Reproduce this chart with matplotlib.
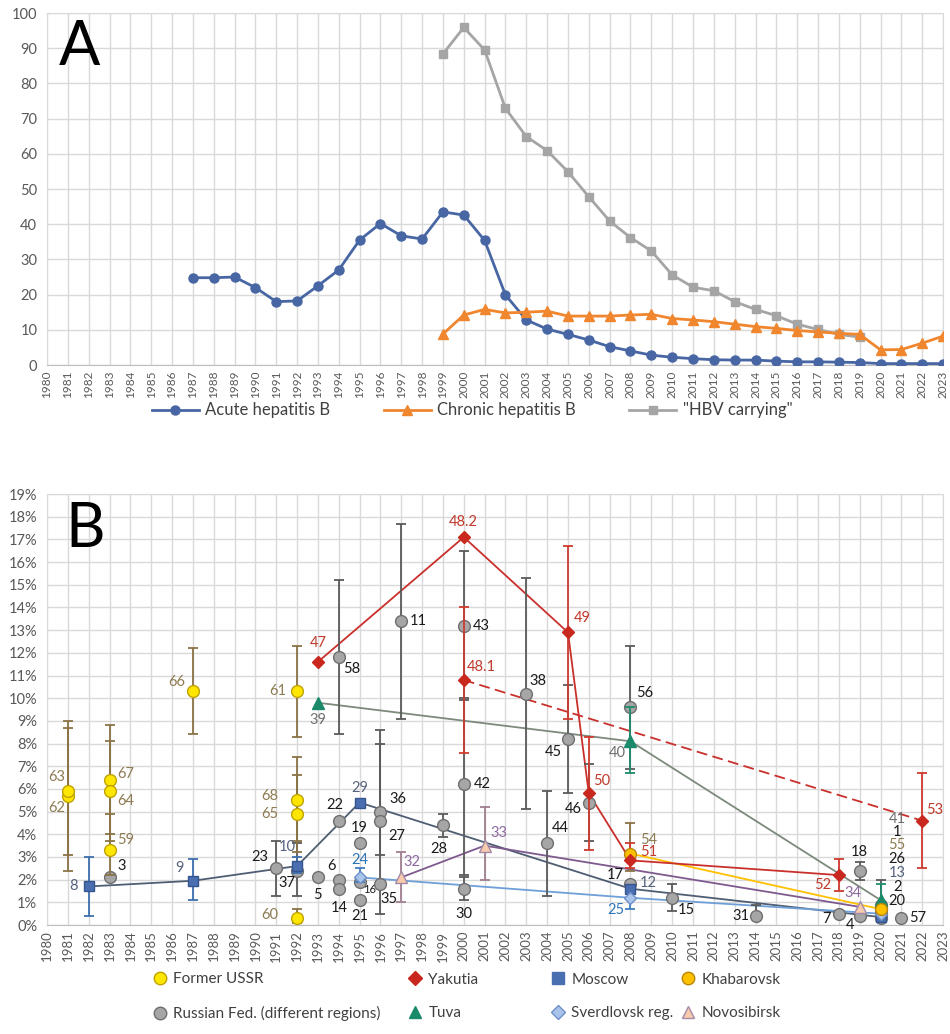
import numpy as np
import matplotlib.pyplot as plt
from matplotlib.lines import Line2D

plt.rcParams['font.family'] = ['Lato', 'DejaVu Sans']
nan = np.nan

# ---------------- panel A: incidence per 100 000 ----------------
acute_years = list(range(1987, 2024))
acute = [24.8, 24.8, 25.0, 22.0, 18.0, 18.2, 22.5, 27.0, 35.5, 40.2, 36.7, 35.8,
         43.5, 42.6, 35.4, 19.9, 12.8, 10.2, 8.7, 7.1, 5.2, 4.0, 2.8, 2.2, 1.8,
         1.5, 1.4, 1.4, 1.1, 0.9, 0.9, 0.8, 0.7, 0.4, 0.4, 0.4, 0.4]
chronic_years = list(range(1999, 2024))
chronic = [8.8, 14.2, 15.8, 14.8, 15.0, 15.3, 13.9, 13.9, 13.9, 14.2, 14.4, 13.2,
           12.8, 12.3, 11.6, 10.9, 10.4, 9.8, 9.4, 9.0, 8.7, 4.3, 4.4, 6.2, 8.2]
carrier_years = list(range(1999, 2020))
carrier = [88.4, 95.9, 89.5, 72.9, 64.9, 60.9, 54.9, 47.8, 40.9, 36.2, 32.4,
           25.6, 22.1, 21.1, 18.0, 15.8, 14.0, 11.6, 10.1, 8.7, 7.9]

# ---------------- panel B: HBsAg prevalence (%) ----------------
ussr_lab = ['62', '63', '67', '64', '59', '66', '61', '68', '65', '60']
ussr_year = [1981, 1981, 1983, 1983, 1983, 1987, 1992, 1992, 1992, 1992]
ussr_val = [5.7, 5.9, 6.4, 5.9, 3.3, 10.3, 10.3, 5.5, 4.9, 0.3]
ussr_lo = [3.1, 2.4, 4.0, 3.7, 2.2, 8.4, 8.3, 3.7, 3.2, 0.1]
ussr_hi = [8.7, 9.0, 8.8, 8.1, 4.9, 12.2, 12.3, 7.4, 6.6, 0.7]

rus_lab = ['3', '23', '37', '5', '6', '14', '22', '58', '19', '16', '21', '36', '27',
           '35', '11', '28', '43', '42', '30', '38', '44', '45', '46', '56', '17',
           '15', '31', '7', '18', '4', '1', '26', '2', '20', '57']
rus_year = [1983, 1991, 1992, 1993, 1994, 1994, 1994, 1994, 1995, 1995, 1995, 1996,
            1996, 1996, 1997, 1999, 2000, 2000, 2000, 2003, 2004, 2005, 2006, 2008,
            2008, 2010, 2014, 2018, 2019, 2019, 2020, 2020, 2020, 2020, 2021]
rus_val = [2.1, 2.5, 2.4, 2.1, 2.0, 1.6, 4.6, 11.8, 3.6, 1.9, 1.1, 5.0, 4.6, 1.8,
           13.4, 4.4, 13.2, 6.2, 1.6, 10.2, 3.6, 8.2, 5.4, 9.6, 1.8, 1.2, 0.4, 0.5,
           2.4, 0.4, 0.9, 0.7, 0.5, 0.3, 0.3]
rus_lo = [nan, 1.3, 1.3, nan, nan, nan, nan, 8.4, nan, nan, nan, 3.1, nan, 0.5,
          9.1, 3.9, 9.9, 2.2, 1.1, 5.1, 1.3, 5.8, 3.7, 6.9, nan, 0.6, 0.4, nan,
          2.0, nan, nan, nan, 0.3, nan, nan]
rus_hi = [nan, 3.7, 3.6, nan, nan, nan, nan, 15.2, nan, nan, nan, 8.6, nan, 8.0,
          17.7, 4.9, 16.5, 10.0, 2.1, 15.3, 5.9, 10.6, 7.1, 12.3, nan, 1.8, 0.9, nan,
          2.8, nan, nan, nan, 2.0, nan, nan]

yak_lab = ['47', '48.2', '49', '50', '51', '52']
yak_year = [1993, 2000, 2005, 2006, 2008, 2018]
yak_val = [11.6, 17.1, 12.9, 5.8, 2.85, 2.2]
yak_lo = [nan, nan, 9.1, 3.3, 2.5, 1.5]
yak_hi = [nan, nan, 16.7, 8.3, 3.6, 2.9]

yak2_lab = ['48.1', '53']
yak2_year = [2000, 2022]
yak2_val = [10.8, 4.6]
yak2_lo = [7.6, 2.5]
yak2_hi = [14.0, 6.7]

mos_lab = ['8', '9', '10', '29', '12', '13']
mos_year = [1982, 1987, 1992, 1995, 2008, 2020]
mos_val = [1.7, 1.95, 2.6, 5.4, 1.6, 0.35]
mos_lo = [0.4, 1.1, 2.3, nan, nan, nan]
mos_hi = [3.0, 2.9, 3.0, nan, nan, nan]

tuva_lab = ['39', '40', '41']
tuva_year = [1993, 2008, 2020]
tuva_val = [9.8, 8.1, 1.1]
tuva_lo = [nan, 6.7, 0.6]
tuva_hi = [nan, 9.6, 1.8]

kha_lab = ['54', '55']
kha_year = [2008, 2020]
kha_val = [3.15, 0.7]
kha_lo = [2.4, nan]
kha_hi = [4.5, nan]

sve_lab = ['24', '25', '']
sve_year = [1995, 2008, 2020]
sve_val = [2.1, 1.2, 0.5]
sve_lo = [1.9, 0.7, nan]
sve_hi = [2.5, 1.6, nan]

nov_lab = ['32', '33', '34']
nov_year = [1997, 2001, 2019]
nov_val = [2.1, 3.5, 0.8]
nov_lo = [1.0, 2.0, nan]
nov_hi = [3.2, 5.2, nan]

# label placement (pixel offsets from the point: right, up)
label_off = {
    '62': (-11, -12), '63': (-11, 14), '67': (16, 6), '64': (16, -10), '59': (16, 10),
    '66': (-16, 9), '61': (-19, 0), '68': (-27, 4), '65': (-27, 0), '60': (-27, 3),
    '3': (12, 11), '23': (-16, 11), '37': (-10, -12), '5': (0, -18), '6': (-7, 14),
    '14': (0, -19), '22': (-4, 16), '58': (13, -12), '19': (0, 15), '16': (10, -8),
    '21': (0, -16), '36': (17, 13), '27': (16, -15), '35': (9, -15), '11': (17, 0),
    '28': (-4, -24), '43': (18, 0), '42': (19, 0), '30': (0, -25), '38': (12, 13),
    '44': (13, 15), '45': (-15, -13), '46': (-16, -6), '56': (14, 14), '17': (-15, 9),
    '15': (14, -12), '31': (-15, 0), '7': (-12, -5), '18': (0, 19), '4': (-10, -9),
    '57': (16, 0),
    '47': (0, 19), '48.2': (0, 15), '49': (14, 14), '50': (13, 12), '51': (18, 8),
    '52': (-16, -10), '48.1': (18, 13), '53': (12, 11),
    '8': (-15, 0), '9': (-13, 13), '10': (-10, 19), '29': (0, 15), '12': (18, 6),
    '39': (0, -17), '40': (-13, -12), '54': (18, 14),
    '24': (0, 17), '25': (-15, -12), '32': (11, 15), '33': (14, 13), '34': (-7, 14),
}
# labels of the 2020 cluster are listed in a column beside it
stack_y = {'41': 4.67, '1': 4.1, '55': 3.53, '26': 2.91, '13': 2.29, '2': 1.68, '20': 1.06}

years_axis = list(range(1980, 2024))
grid_c = '#d9d9d9'
tick_c = '#595959'

fig = plt.figure(figsize=(9.5, 10.34), dpi=100)

# ---------------- panel A ----------------
axA = fig.add_axes([0.0495, 0.647, 0.9432, 0.3404])
axA.plot(acute_years, acute, color='#4766A3', lw=2, marker='o', ms=6.5,
         label='Acute hepatitis B', zorder=3)
axA.plot(chronic_years, chronic, color='#F0862E', lw=2, marker='^', ms=6.5,
         label='Chronic hepatitis B', zorder=3)
axA.plot(carrier_years, carrier, color='#A5A5A5', lw=2, marker='s', ms=6,
         label='"HBV carrying"', zorder=2)
axA.set_xlim(1980, 2023)
axA.set_ylim(0, 100)
axA.set_yticks(range(0, 101, 10))
axA.text(0.013, 0.852, 'A', transform=axA.transAxes, fontsize=44, va='baseline')

fig.legend(loc='center', bbox_to_anchor=(0.497, 0.603), ncol=3, frameon=False,
           fontsize=12, handlelength=2.8, columnspacing=3.2, handletextpad=0.4,
           labelcolor='#404040')

# ---------------- panel B ----------------
axB = fig.add_axes([0.0495, 0.1054, 0.9432, 0.4168])


def draw_group(years, vals, lo, hi, labs, mk, ms, fc, ec, errc, labc,
               linec=None, ls='-', z=4):
    years = np.array(years, float)
    vals = np.array(vals, float)
    lo = np.array(lo, float)
    hi = np.array(hi, float)
    m = ~np.isnan(lo)
    if m.any():
        axB.errorbar(years[m], vals[m], yerr=[vals[m] - lo[m], hi[m] - vals[m]],
                     fmt='none', ecolor=errc, elinewidth=1.3, capsize=3.5,
                     capthick=1.3, zorder=z - 1)
    if linec:
        axB.plot(years, vals, color=linec, lw=1.3, ls=ls, zorder=2,
                 dashes=(6, 3) if ls == '--' else (None, None))
    axB.plot(years, vals, ls='none', marker=mk, ms=ms, mfc=fc, mec=ec, mew=1,
             zorder=z)
    for x, y, t in zip(years, vals, labs):
        if not t:
            continue
        if t in stack_y:
            axB.text(2020.8, stack_y[t], t, color=labc, fontsize=10.5,
                     ha='center', va='center', zorder=6)
            continue
        dx, dy = label_off[t]
        axB.annotate(t, (x, y), xytext=(dx, dy), textcoords='offset pixels',
                     color=labc, fontsize=8 if t == '16' else 10.5,
                     ha='center', va='center', zorder=6)


draw_group(rus_year, rus_val, rus_lo, rus_hi, rus_lab, 'o', 8.5, '#A6A6A6',
           '#6E6E6E', '#5A5A5A', '#1A1A1A', z=4)
draw_group(ussr_year, ussr_val, ussr_lo, ussr_hi, ussr_lab, 'o', 8.5, '#FFE600',
           '#BFA200', '#8B7345', '#8D7B52', z=5)
draw_group(mos_year, mos_val, mos_lo, mos_hi, mos_lab, 's', 7.5, '#4A6FB0',
           '#34558F', '#3F6FB0', '#55627F', linec='#4F5D73', z=5)
draw_group(tuva_year, tuva_val, tuva_lo, tuva_hi, tuva_lab, '^', 8, '#1B8A6B',
           '#1B8A6B', '#1E8C6E', '#6F6F6F', linec='#7C8A7C', z=5)
draw_group(sve_year, sve_val, sve_lo, sve_hi, sve_lab, 'D', 6.5, '#A9C4EB',
           '#6F8FC8', '#3F7FBF', '#2E75B6', linec='#6E9FD8', z=5)
draw_group(nov_year, nov_val, nov_lo, nov_hi, nov_lab, '^', 8, '#F8CBAD',
           '#A38BA8', '#A07F8F', '#8E6AA0', linec='#7E5A8E', z=5)
draw_group(kha_year, kha_val, kha_lo, kha_hi, kha_lab, 'o', 8.5, '#FFC000',
           '#B8860B', '#8B7345', '#8D7B52', linec='#FFC000', z=5)
draw_group(yak_year, yak_val, yak_lo, yak_hi, yak_lab, 'D', 6.5, '#C8281E',
           '#C8281E', '#D03A2F', '#C0392B', linec='#C9302C', z=5)
draw_group(yak2_year, yak2_val, yak2_lo, yak2_hi, yak2_lab, 'D', 6.5, '#C8281E',
           '#C8281E', '#D03A2F', '#C0392B', linec='#C9302C', ls='--', z=5)

axB.set_xlim(1980, 2023)
axB.set_ylim(0, 19)
axB.set_yticks(range(0, 20))
axB.set_yticklabels(['%d%%' % v for v in range(0, 20)])
axB.text(0.021, 0.877, 'B', transform=axB.transAxes, fontsize=44, va='baseline')

for ax, xsize in ((axA, 8.5), (axB, 9.5)):
    ax.set_xticks(years_axis)
    ax.set_xticklabels([str(y) for y in years_axis], rotation=90)
    ax.grid(True, color=grid_c, lw=1, zorder=0)
    ax.set_axisbelow(True)
    ax.tick_params(length=0, colors=tick_c, labelsize=10.5, pad=7)
    ax.tick_params(axis='x', labelsize=xsize, pad=4)
    for s in ax.spines.values():
        s.set_color(grid_c)
    ax.spines['bottom'].set_color('#bfbfbf')

# legend of panel B, one small legend per column
def h(mk, ms, fc, ec):
    return Line2D([], [], ls='none', marker=mk, ms=ms, mfc=fc, mec=ec)

cols = [
    (160, [h('o', 9, '#FFE600', '#BFA200'), h('o', 9, '#A6A6A6', '#6E6E6E')],
     ['Former USSR', 'Russian Fed. (different regions)']),
    (415, [h('D', 7, '#C8281E', '#C8281E'), h('^', 8.5, '#1B8A6B', '#1B8A6B')],
     ['Yakutia', 'Tuva']),
    (558, [h('s', 8, '#4A6FB0', '#4A6FB0'), h('D', 7, '#A9C4EB', '#6F8FC8')],
     ['Moscow', 'Sverdlovsk reg.']),
    (688, [h('o', 9, '#FFC000', '#B8860B'), h('^', 8.5, '#F8CBAD', '#A38BA8')],
     ['Khabarovsk', 'Novosibirsk']),
]
for x, hs, ls_ in cols:
    fig.legend(hs, ls_, loc='center left', bbox_to_anchor=((x - 8) / 950, 0.0363),
               frameon=False, fontsize=11, handlelength=1.0, handletextpad=0.4,
               borderpad=0, borderaxespad=0, labelspacing=1.3, labelcolor='#404040')

fig.savefig('out.png', dpi=100)
